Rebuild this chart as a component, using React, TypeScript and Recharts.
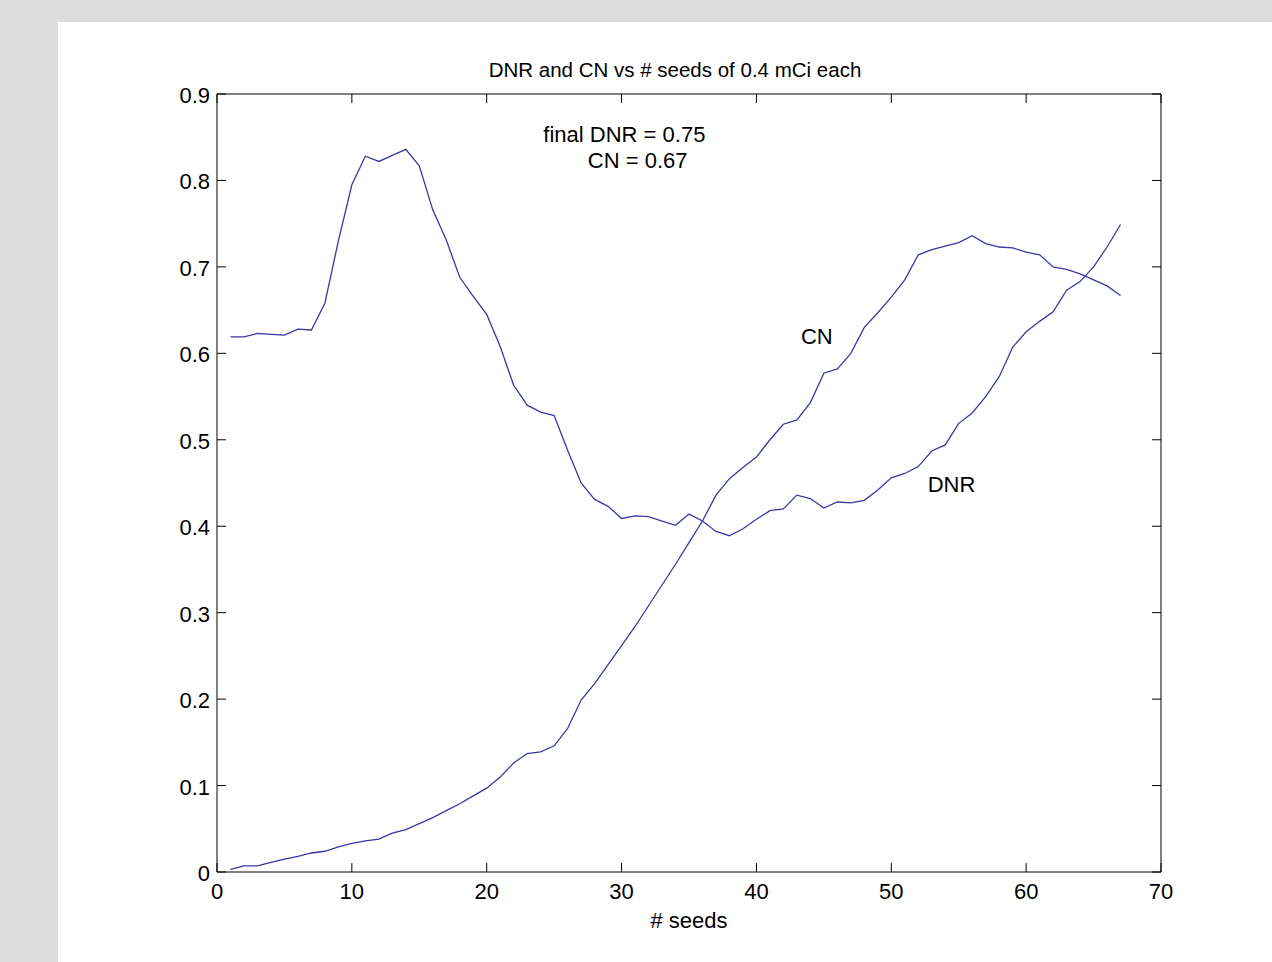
import React from "react";
import { LineChart, Line, XAxis, YAxis, ReferenceDot } from "recharts";

const FONT = '"Liberation Sans", Arial, Helvetica, sans-serif';
const LINE_COLOR = "#3838a4";
const TICK_LEN = 9;
const FS = 22;

const TITLE = "DNR and CN vs # seeds of 0.4 mCi each";
const X_LABEL = "# seeds";

const X_TICKS = [0, 10, 20, 30, 40, 50, 60, 70];
const Y_TICKS = [0, 0.1, 0.2, 0.3, 0.4, 0.5, 0.6, 0.7, 0.8, 0.9];

const SEEDS = [
  1, 2, 3, 4, 5, 6, 7, 8, 9, 10, 11, 12, 13, 14, 15, 16, 17, 18, 19, 20,
  21, 22, 23, 24, 25, 26, 27, 28, 29, 30, 31, 32, 33, 34, 35, 36, 37, 38, 39, 40,
  41, 42, 43, 44, 45, 46, 47, 48, 49, 50, 51, 52, 53, 54, 55, 56, 57, 58, 59, 60,
  61, 62, 63, 64, 65, 66, 67,
];

const DNR = [
  0.619, 0.619, 0.623, 0.622, 0.621, 0.628, 0.627, 0.658, 0.73, 0.795,
  0.828, 0.822, 0.829, 0.836, 0.817, 0.766, 0.731, 0.688, 0.666, 0.645,
  0.608, 0.563, 0.54, 0.532, 0.528, 0.488, 0.45, 0.431, 0.423, 0.409,
  0.412, 0.411, 0.406, 0.401, 0.414, 0.406, 0.394, 0.389, 0.397, 0.408,
  0.418, 0.42, 0.436, 0.432, 0.421, 0.428, 0.427, 0.43, 0.442, 0.456,
  0.461, 0.469, 0.487, 0.494, 0.519, 0.531, 0.55, 0.573, 0.607, 0.625,
  0.637, 0.648, 0.673, 0.683, 0.7, 0.723, 0.749,
];

const CN = [
  0.003, 0.007, 0.007, 0.011, 0.015, 0.018, 0.022, 0.024, 0.029, 0.033,
  0.036, 0.038, 0.045, 0.049, 0.056, 0.063, 0.071, 0.079, 0.088, 0.097,
  0.11, 0.126, 0.137, 0.139, 0.146, 0.166, 0.199, 0.218, 0.24, 0.262,
  0.284, 0.308, 0.332, 0.356, 0.381, 0.406, 0.436, 0.455, 0.468, 0.48,
  0.5, 0.518, 0.523, 0.543, 0.577, 0.582, 0.6, 0.63, 0.647, 0.665,
  0.685, 0.714, 0.72, 0.724, 0.728, 0.736, 0.727, 0.723, 0.722, 0.717,
  0.714, 0.7, 0.697, 0.692, 0.685, 0.678, 0.667,
];

// text annotations, in data units (left edge, vertical middle)
const NOTES = [
  { x: 24.2, y: 0.854, text: "final DNR = 0.75" },
  { x: 27.5, y: 0.824, text: "CN = 0.67" },
  { x: 43.3, y: 0.62, text: "CN" },
  { x: 52.7, y: 0.449, text: "DNR" },
];

const data = SEEDS.map((s, i) => ({ seed: s, dnr: DNR[i], cn: CN[i] }));

const fmtY = (v: number) => (v === 0 ? "0" : v.toFixed(1));

const BottomTick = (props: any) => {
  const { x, y, payload } = props;
  return (
    <g>
      <line x1={x} y1={y} x2={x} y2={y - TICK_LEN} stroke="#000" />
      <text x={x} y={y + 27} textAnchor="middle" fontSize={FS} fill="#000" fontFamily={FONT}>
        {payload.value}
      </text>
    </g>
  );
};

const LeftTick = (props: any) => {
  const { x, y, payload } = props;
  return (
    <g>
      <line x1={x} y1={y} x2={x + TICK_LEN} y2={y} stroke="#000" />
      <text x={x - 7} y={y + 9} textAnchor="end" fontSize={FS} fill="#000" fontFamily={FONT}>
        {fmtY(payload.value)}
      </text>
    </g>
  );
};

const TopTick = (props: any) => {
  const { x, y } = props;
  return <line x1={x} y1={y} x2={x} y2={y + TICK_LEN} stroke="#000" />;
};

const RightTick = (props: any) => {
  const { x, y } = props;
  return <line x1={x} y1={y} x2={x - TICK_LEN} y2={y} stroke="#000" />;
};

export default function App() {
  return (
    <div
      style={{
        position: "fixed",
        top: 0,
        left: 0,
        width: 1272,
        height: 962,
        background: "#dcdcdc",
        overflow: "hidden",
        fontFamily: FONT,
      }}
    >
      <div
        style={{ position: "absolute", left: 58, top: 22, width: 1214, height: 940, background: "#fff" }}
      />
      <div style={{ position: "absolute", left: 0, top: 0 }}>
        <LineChart
          width={1272}
          height={962}
          data={data}
          margin={{ top: 93, right: 110, bottom: 0, left: 157 }}
        >
          <XAxis
            dataKey="seed"
            type="number"
            domain={[0, 70]}
            ticks={X_TICKS}
            allowDataOverflow
            height={90}
            tickSize={0}
            tickMargin={0}
            tickLine={false}
            axisLine={{ stroke: "#000" }}
            tick={<BottomTick />}
            interval={0}
            label={{ value: X_LABEL, position: "insideBottom", offset: 34, fontSize: FS, fill: "#000", fontFamily: FONT }}
          />
          <XAxis
            xAxisId="top"
            orientation="top"
            dataKey="seed"
            type="number"
            domain={[0, 70]}
            ticks={X_TICKS}
            allowDataOverflow
            height={1}
            tickSize={0}
            tickMargin={0}
            tickLine={false}
            axisLine={{ stroke: "#000" }}
            tick={<TopTick />}
            interval={0}
            label={{ value: TITLE, position: "top", offset: 16, dx: -14, fontSize: 20.5, fill: "#000", fontFamily: FONT }}
          />
          <YAxis
            type="number"
            domain={[0, 0.9]}
            ticks={Y_TICKS}
            allowDataOverflow
            width={60}
            tickSize={0}
            tickMargin={0}
            tickLine={false}
            axisLine={{ stroke: "#000" }}
            tick={<LeftTick />}
            interval={0}
          />
          <YAxis
            yAxisId="right"
            orientation="right"
            type="number"
            domain={[0, 0.9]}
            ticks={Y_TICKS}
            allowDataOverflow
            width={1}
            tickSize={0}
            tickMargin={0}
            tickLine={false}
            axisLine={{ stroke: "#000" }}
            tick={<RightTick />}
            interval={0}
          />
          {/* invisible series so the top and right axes (box sides) get drawn */}
          <Line
            xAxisId="top"
            yAxisId="right"
            dataKey="cn"
            stroke="transparent"
            dot={false}
            activeDot={false}
            isAnimationActive={false}
          />
          <Line
            dataKey="dnr"
            type="linear"
            stroke={LINE_COLOR}
            strokeWidth={1.3}
            dot={false}
            activeDot={false}
            isAnimationActive={false}
          />
          <Line
            dataKey="cn"
            type="linear"
            stroke={LINE_COLOR}
            strokeWidth={1.3}
            dot={false}
            activeDot={false}
            isAnimationActive={false}
          />
          {NOTES.map((n) => (
            <ReferenceDot
              key={n.text}
              x={n.x}
              y={n.y}
              r={0}
              fill="none"
              stroke="none"
              label={(p: any) => (
                <text
                  x={p.viewBox.x}
                  y={p.viewBox.y}
                  dy="0.36em"
                  fontSize={FS}
                  fill="#000"
                  fontFamily={FONT}
                >
                  {n.text}
                </text>
              )}
            />
          ))}
        </LineChart>
      </div>
    </div>
  );
}
